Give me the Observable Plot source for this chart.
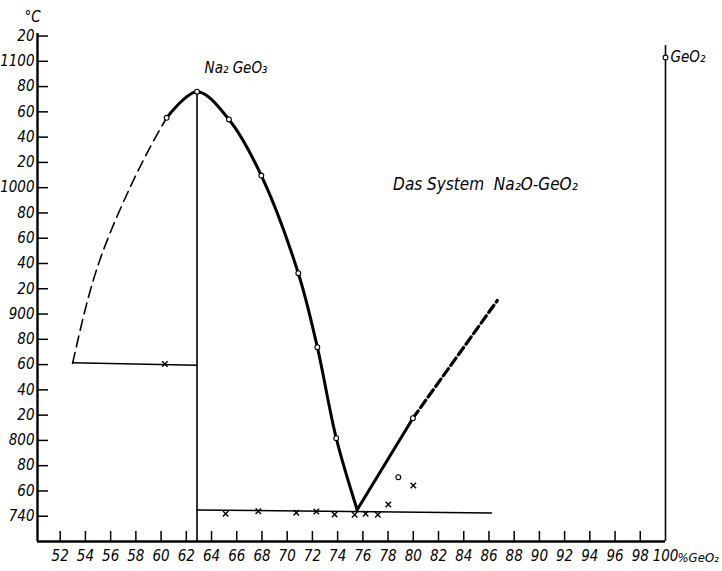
<!DOCTYPE html>
<html><head><meta charset="utf-8">
<script src="https://cdn.jsdelivr.net/npm/d3@7"></script>
<script src="https://cdn.jsdelivr.net/npm/@observablehq/plot@0.6"></script>
<style>
body{margin:0;background:#fff}
#chart svg{display:block}
</style>
</head><body><div id="chart"></div>
<script>
// ---- tick values and labels ----
const xTicks = [52,54,56,58,60,62,64,66,68,70,72,74,76,78,80,82,84,86,88,90,92,94,96,98,100];
const yTicks = [740,760,780,800,820,840,860,880,900,920,940,960,980,1000,1020,1040,1060,1080,1100,1120];
const yTickLabels = ["740","60","80","800","20","40","60","80","900","20","40","60","80","1000","20","40","60","80","1100","20"];

// ---- liquidus curves (% GeO2, °C) ----
const leftDashedX = [52.98, 54.57, 56.54, 58.66, 60.44];
const leftDashedT = [860.9, 925, 978, 1023, 1055.3];
const liquidusX = [60.44, 62.85, 65.38, 67.95, 70.88, 72.39, 73.89, 75.55];
const liquidusT = [1055.3, 1076, 1054, 1009.6, 932.3, 873.8, 801.8, 745.1];
const rightSolidX = [75.55, 79.97];
const rightSolidT = [745.1, 817.6];
const rightDashedX = [79.97, 86.66];
const rightDashedT = [817.6, 910.7];

// ---- horizontal (solidus) lines ----
const leftSolidusX = [52.98, 62.85];
const leftSolidusT = [861.5, 859.5];
const eutecticLineX = [62.85, 86.2];
const eutecticLineT = [745, 742.5];

// ---- compound / end member ----
const compoundX = [62.85];
const compoundT = [1076];
const geo2X = [100];
const geo2AxisTopT = [1112.5];

// ---- measured points ----
const circleX = [60.44, 62.85, 65.38, 67.95, 70.88, 72.39, 73.89, 79.97, 78.81, 100];
const circleT = [1055.3, 1076, 1054, 1009.6, 932.3, 873.8, 801.8, 817.6, 770.9, 1103];
const crossX = [60.3, 65.12, 67.71, 70.72, 72.31, 73.76, 75.35, 76.22, 77.19, 78.02, 80.0];
const crossT = [860.5, 741.9, 744.0, 742.7, 743.7, 741.4, 741.1, 741.9, 741.1, 749.3, 764.3];

const xDomain = [50.2, 100];
const yDomain = [720, 1122];

const pts = (xs, ts) => xs.map((x, i) => ({x, t: ts[i]}));
const FONT = "'Liberation Sans Narrow', 'DejaVu Sans Condensed', 'Liberation Sans', sans-serif";

const W = 722, H = 571;
const mL = 37, mR = 57, mT = 33, mB = 30;
const frameW = W - mL - mR, frameH = H - mT - mB;

const chart = Plot.plot({
  width: W, height: H,
  marginLeft: mL, marginRight: mR, marginTop: mT, marginBottom: mB,
  style: {fontFamily: FONT, fontSize: "15px", fontStyle: "italic", background: "#fff", color: "#000"},
  x: {domain: xDomain},
  y: {domain: yDomain},
  marks: [
    // axis labels
    Plot.axisX(xTicks, {label: null, tickSize: 0, tickPadding: 9, tickFormat: d => String(d), fontSize: 15, fontStyle: "italic"}),
    Plot.axisY(yTicks, {label: null, tickSize: 0, tickPadding: 3, tickFormat: (d) => yTickLabels[yTicks.indexOf(d)], fontSize: 15, fontStyle: "italic"}),
    // inward ticks
    Plot.tickY(yTicks, {y: d => d, insetRight: frameW - 11, strokeWidth: 1.5, stroke: "#000"}),
    Plot.tickX(xTicks.filter(d => d < 100), {x: d => d, insetTop: frameH - 10, strokeWidth: 1.5, stroke: "#000"}),
    // axis lines
    Plot.ruleX([xDomain[0]], {y1: yDomain[0], y2: yDomain[1], strokeWidth: 2.4, stroke: "#000"}),
    Plot.ruleY([yDomain[0]], {x1: xDomain[0], x2: xDomain[1], strokeWidth: 2.4, stroke: "#000"}),
    // right GeO2 line
    Plot.ruleX(geo2X, {y1: yDomain[0], y2: geo2AxisTopT[0], strokeWidth: 1.6, stroke: "#000"}),
    // compound vertical line
    Plot.ruleX(compoundX, {y1: yDomain[0], y2: compoundT[0], strokeWidth: 1.6, stroke: "#000"}),
    // solidus lines
    Plot.line(pts(leftSolidusX, leftSolidusT), {x: "x", y: "t", strokeWidth: 1.5, stroke: "#000"}),
    Plot.line(pts(eutecticLineX, eutecticLineT), {x: "x", y: "t", strokeWidth: 1.5, stroke: "#000"}),
    // liquidus
    Plot.line(pts(leftDashedX, leftDashedT), {x: "x", y: "t", curve: "natural", strokeWidth: 1.6, strokeDasharray: "11,6", stroke: "#000"}),
    Plot.line(pts(liquidusX, liquidusT), {x: "x", y: "t", curve: "catmull-rom", strokeWidth: 3, stroke: "#000"}),
    Plot.line(pts(rightSolidX, rightSolidT), {x: "x", y: "t", strokeWidth: 3, stroke: "#000"}),
    Plot.line(pts(rightDashedX, rightDashedT), {x: "x", y: "t", strokeWidth: 3.2, strokeDasharray: "9,4", stroke: "#000"}),
    // points
    Plot.dot(pts(crossX, crossT), {x: "x", y: "t", symbol: "times", r: 2.6, stroke: "#000", strokeWidth: 1.4}),
    Plot.dot(pts(circleX, circleT), {x: "x", y: "t", symbol: "circle", r: 2.4, fill: "#fff", stroke: "#000", strokeWidth: 1.1}),
    // annotations
    Plot.text(["°C"], {frameAnchor: "top-left", dx: -13, dy: -22, fontSize: 15, fontStyle: "italic"}),
    Plot.text(["Na₂ GeO₃"], {x: 63.45, y: 1094.5, textAnchor: "start", fontSize: 15, fontStyle: "italic"}),
    Plot.text(["Das System  Na₂O-GeO₂"], {x: 78.4, y: 1002.5, textAnchor: "start", fontSize: 17, fontStyle: "italic"}),
    Plot.text(["GeO₂"], {x: geo2X[0], y: circleT[circleT.length - 1], dx: 5, textAnchor: "start", fontSize: 15, fontStyle: "italic"}),
    Plot.text(["%GeO₂"], {x: xDomain[1], y: yDomain[0], dx: 12, dy: 16, textAnchor: "start", fontSize: 13, fontStyle: "italic"})
  ]
});
document.getElementById("chart").appendChild(chart);
</script>
</body></html>
